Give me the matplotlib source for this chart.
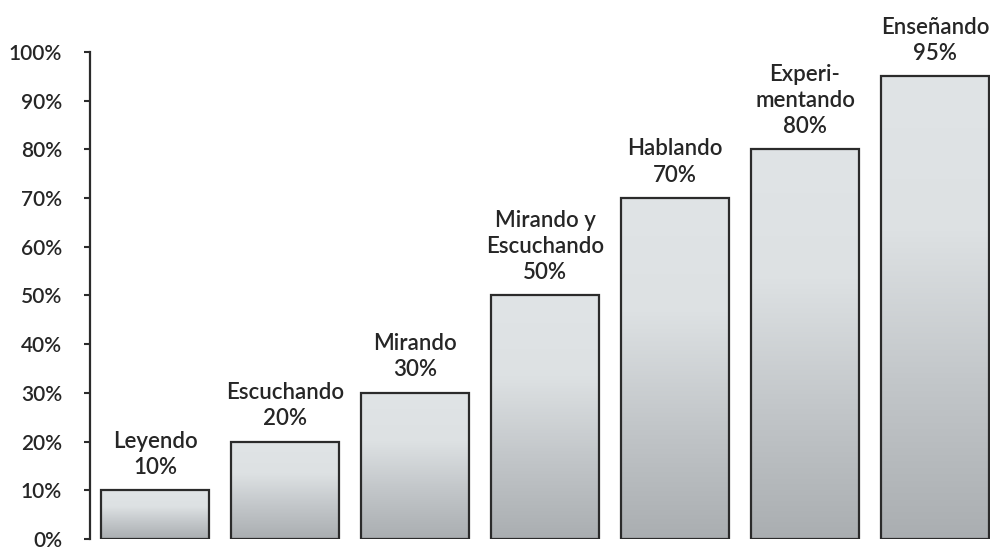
import numpy as np
import matplotlib
matplotlib.use("Agg")
import matplotlib.pyplot as plt
from matplotlib.colors import LinearSegmentedColormap

# data
labels = ["Leyendo", "Escuchando", "Mirando", "Mirando y\nEscuchando",
          "Hablando", "Experi-\nmentando", "Enseñando"]
values = [10, 20, 30, 50, 70, 80, 95]
yticks = [0, 10, 20, 30, 40, 50, 60, 70, 80, 90, 100]

TEXT = "#262626"
plt.rcParams['font.family'] = ['Lato', 'DejaVu Sans']

fig = plt.figure(figsize=(9.9, 5.5), dpi=100)
ax = fig.add_axes([90 / 990, 11 / 550, 900 / 990, 487 / 550])

x = np.arange(len(values))
bars = ax.bar(x, values, width=0.83, facecolor="none", edgecolor="#2b2b2b",
              linewidth=1.6, zorder=3)

# light-to-dark vertical gradient inside each bar
grad_cmap = LinearSegmentedColormap.from_list(
    "bar", ["#aaaeb1", "#c2c6c9", "#dde1e3", "#e0e4e6"])
grad = np.linspace(0, 1, 256).reshape(-1, 1)
for b in bars:
    x0, y0 = b.get_x(), b.get_y()
    w, h = b.get_width(), b.get_height()
    im = ax.imshow(grad, cmap=grad_cmap, origin="lower", aspect="auto",
                   extent=[x0, x0 + w, y0, y0 + h], zorder=2)
    im.set_clip_path(b)

for xi, v, lab in zip(x, values, labels):
    ax.annotate(f"{lab}\n{v}%", (xi, v), xytext=(0, 9),
                textcoords="offset points", ha="center", va="bottom",
                fontsize=16, fontweight="semibold", color=TEXT,
                linespacing=1.3, annotation_clip=False)

ax.set_xlim(-0.5, 6.423)
ax.set_ylim(0, 100)
ax.set_yticks(yticks)
ax.set_yticklabels([f"{t}%" for t in yticks], fontsize=15,
                   fontweight="semibold", color=TEXT)
ax.tick_params(axis="y", direction="out", length=4, width=1.5,
               color="#2b2b2b", pad=16)
ax.set_xticks([])
for s in ["top", "right", "bottom"]:
    ax.spines[s].set_visible(False)
ax.spines["left"].set_linewidth(1.6)
ax.spines["left"].set_color("#2b2b2b")
ax.set_facecolor("none")

fig.savefig("out.png", dpi=100)
